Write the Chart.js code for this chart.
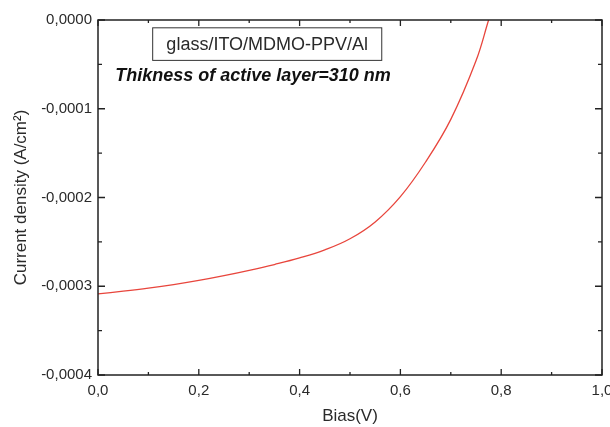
<!DOCTYPE html>
<html>
<head>
<meta charset="utf-8">
<script src="https://cdn.jsdelivr.net/npm/chart.js@4/dist/chart.umd.min.js"></script>
<style>
  html, body { margin: 0; padding: 0; background: #fff; }
  #wrap { width: 610px; height: 427px; }
</style>
</head>
<body>
<div id="wrap"><canvas id="c" width="610" height="427"></canvas></div>
<script>
// ---- Data ----
const biasV = [0, 0.05, 0.1, 0.15, 0.2, 0.25, 0.3, 0.35, 0.4, 0.45, 0.5, 0.55, 0.6, 0.65, 0.7, 0.75, 0.775];
const currentDensity = [-3.086e-4, -3.056e-4, -3.022e-4, -2.982e-4, -2.935e-4, -2.881e-4, -2.821e-4, -2.755e-4, -2.681e-4, -2.590e-4, -2.465e-4, -2.275e-4, -1.99e-4, -1.60e-4, -1.12e-4, -0.46e-4, 0];
const xTicks = [0, 0.2, 0.4, 0.6, 0.8, 1.0];
const yTicks = [0, -0.0001, -0.0002, -0.0003, -0.0004];
const xTitle = 'Bias(V)';
const yTitle = 'Current density (A/cm\u00B2)';
const boxLabel = 'glass/ITO/MDMO-PPV/Al';
const noteLabel = 'Thikness of active layer=310 nm';

const fmtX = v => Number(v).toFixed(1).replace('.', ',');
const fmtY = v => { let s = Number(v).toFixed(4); if (s === '-0.0000') s = '0.0000'; return s.replace('.', ','); };

const AXIS_COLOR = '#222';
const TEXT_COLOR = '#2a2a2a';
const FONT = '"Liberation Sans", Arial, sans-serif';

const frame = {
  id: 'frame',
  afterDatasetsDraw(chart) {
    const {ctx, chartArea: a, scales: {x, y}} = chart;
    ctx.save();
    ctx.strokeStyle = AXIS_COLOR;
    ctx.lineWidth = 1.5;
    ctx.strokeRect(a.left, a.top, a.right - a.left, a.bottom - a.top);
    ctx.lineWidth = 1.3;
    ctx.beginPath();
    for (let i = 0; i <= 10; i++) {
      const px = x.getPixelForValue(i / 10);
      const len = i % 2 === 0 ? 6 : 3;
      ctx.moveTo(px, a.bottom); ctx.lineTo(px, a.bottom - len);
      ctx.moveTo(px, a.top); ctx.lineTo(px, a.top + len);
    }
    for (let i = 0; i <= 8; i++) {
      const py = y.getPixelForValue(-i * 0.5e-4);
      const len = i % 2 === 0 ? 7 : 4;
      ctx.moveTo(a.left, py); ctx.lineTo(a.left + len, py);
      ctx.moveTo(a.right, py); ctx.lineTo(a.right - len, py);
    }
    ctx.stroke();

    const bx0 = x.getPixelForValue(0.1085), bx1 = x.getPixelForValue(0.563);
    const by0 = y.getPixelForValue(-0.088e-4), by1 = y.getPixelForValue(-0.455e-4);
    ctx.lineWidth = 1;
    ctx.strokeStyle = '#333';
    ctx.strokeRect(bx0, by0, bx1 - bx0, by1 - by0);
    ctx.fillStyle = TEXT_COLOR;
    ctx.font = '18px ' + FONT;
    ctx.textAlign = 'center';
    ctx.textBaseline = 'middle';
    ctx.fillText(boxLabel, (bx0 + bx1) / 2, (by0 + by1) / 2 + 1);

    ctx.font = 'italic bold 18px ' + FONT;
    ctx.textAlign = 'left';
    ctx.fillStyle = '#111';
    ctx.fillText(noteLabel, x.getPixelForValue(0.034), y.getPixelForValue(-0.636e-4));
    ctx.restore();
  }
};

new Chart(document.getElementById('c'), {
  type: 'line',
  data: {
    datasets: [{
      data: biasV.map((v, i) => ({x: v, y: currentDensity[i]})),
      borderColor: '#e8453c',
      borderWidth: 1.3,
      pointRadius: 0,
      tension: 0.4,
      fill: false
    }]
  },
  options: {
    responsive: false,
    animation: false,
    devicePixelRatio: 1,
    layout: { padding: { top: 20, right: 8, left: 0, bottom: 0 } },
    plugins: { legend: { display: false }, tooltip: { enabled: false } },
    scales: {
      x: {
        type: 'linear',
        min: 0, max: 1,
        afterBuildTicks: s => { s.ticks = xTicks.map(v => ({value: v})); },
        afterFit: s => { s.height = 52; s.paddingLeft = 0; s.paddingRight = 0; },
        grid: { display: false, drawTicks: false },
        border: { display: false },
        ticks: {
          padding: 7,
          color: TEXT_COLOR,
          font: { family: FONT, size: 15 },
          callback: v => fmtX(v),
          maxRotation: 0
        },
        title: {
          display: true, text: xTitle, color: TEXT_COLOR,
          font: { family: FONT, size: 17 },
          padding: { top: 4, bottom: 0 }
        }
      },
      y: {
        type: 'linear',
        min: -0.0004, max: 0,
        afterBuildTicks: s => { s.ticks = yTicks.map(v => ({value: v})); },
        afterFit: s => { s.width = 98; s.paddingTop = 0; s.paddingBottom = 0; },
        grid: { display: false, drawTicks: false },
        border: { display: false },
        ticks: {
          padding: 6,
          color: TEXT_COLOR,
          font: { family: FONT, size: 15 },
          callback: v => fmtY(v)
        },
        title: {
          display: true, text: yTitle, color: TEXT_COLOR,
          font: { family: FONT, size: 17 },
          padding: { top: 11, bottom: 0 }
        }
      }
    }
  },
  plugins: [frame]
});
</script>
</body>
</html>
